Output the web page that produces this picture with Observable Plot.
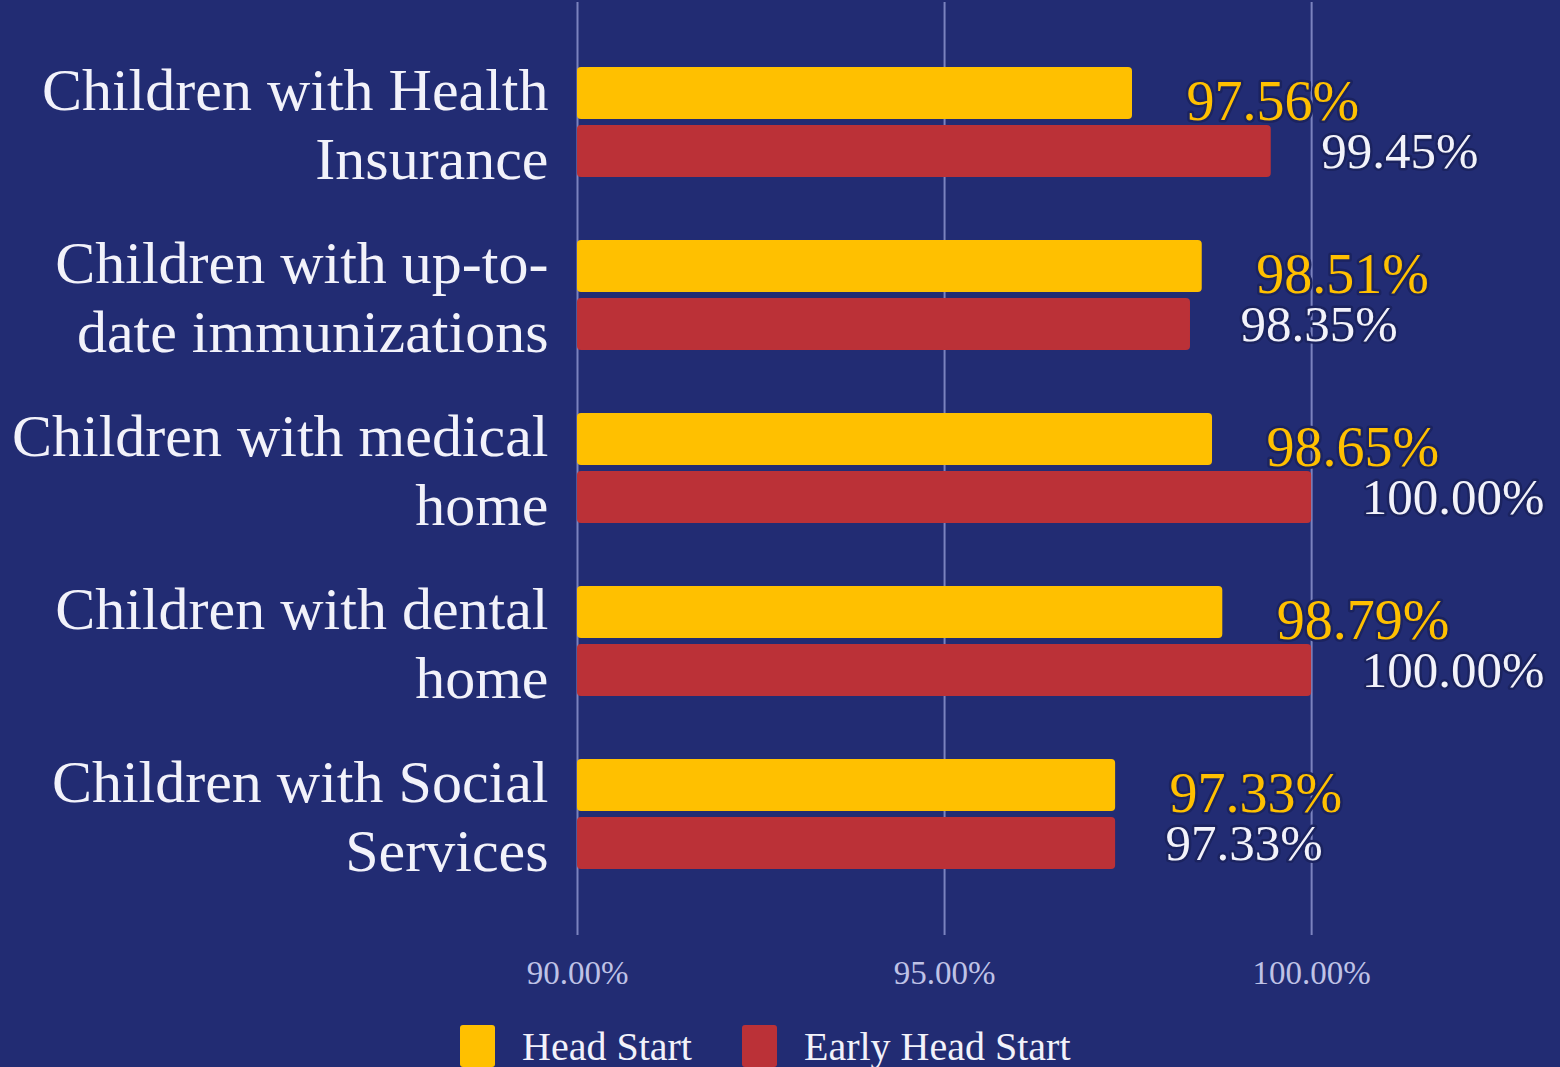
<!DOCTYPE html>
<html>
<head>
<meta charset="utf-8">
<script src="https://cdn.jsdelivr.net/npm/d3@7"></script>
<script src="https://cdn.jsdelivr.net/npm/@observablehq/plot@0.6"></script>
<style>
  html, body { margin: 0; padding: 0; background: #222c73; overflow: hidden; }
  body { width: 1560px; height: 1067px; font-family: "Liberation Serif", serif; }
  #chart svg { display: block; }
  .legend { display: flex; align-items: flex-start; margin-left: 460px; margin-top: 15px; }
  .legend .item { display: flex; align-items: flex-start; margin-right: 50px; }
  .legend .sw { width: 35px; height: 42px; border-radius: 3px; margin-right: 27px; }
  .legend .lbl { font-size: 40px; color: #f2f2fa; line-height: 42px; margin-top: 1px; }
</style>
</head>
<body>
<div id="chart"></div>
<div class="legend" id="legend"></div>
<script>
const categories = [
  "Children with Health\nInsurance",
  "Children with up-to-\ndate immunizations",
  "Children with medical\nhome",
  "Children with dental\nhome",
  "Children with Social\nServices"
];
const seriesNames = ["Head Start", "Early Head Start"];
const headStart = [97.56, 98.51, 98.65, 98.79, 97.33];
const earlyHeadStart = [99.45, 98.35, 100.00, 100.00, 97.33];
const xTicks = [90, 95, 100];
const colors = ["#ffc000", "#bb3137"];

const hsData = categories.map((c, i) => ({category: c, series: seriesNames[0], value: headStart[i]}));
const ehsData = categories.map((c, i) => ({category: c, series: seriesNames[1], value: earlyHeadStart[i]}));
const pct = d => d.toFixed(2) + "%";

const chart = Plot.plot({
  width: 1560,
  height: 1010,
  marginLeft: 577,
  marginRight: 0,
  marginTop: 2,
  marginBottom: 75,
  style: {background: "transparent", fontFamily: "Liberation Serif, serif", overflow: "visible"},
  x: {domain: [90, 103.39], axis: null},
  y: {domain: categories, padding: 0.363, axis: null},
  marks: [
    Plot.ruleX(xTicks, {x: d => d, stroke: "#9aa0d8", strokeOpacity: 0.75, strokeWidth: 2}),
    Plot.barX(hsData, {x1: 90, x2: "value", y: "category", fill: colors[0], insetBottom: 58, rx: 4}),
    Plot.barX(ehsData, {x1: 90, x2: "value", y: "category", fill: colors[1], insetTop: 58, rx: 4}),
    Plot.text(ehsData, {x: "value", y: "category", text: d => pct(d.value), textAnchor: "start", dx: 50, dy: 29, fontSize: 51, fill: "#f2f2fa", stroke: "#1b235f", strokeWidth: 5, paintOrder: "stroke"}),
    Plot.text(hsData, {x: "value", y: "category", text: d => pct(d.value), textAnchor: "start", dx: 54, dy: -20, fontSize: 56, fill: colors[0], stroke: "#1b235f", strokeWidth: 5, paintOrder: "stroke"}),
    Plot.text(categories, {y: d => d, text: d => d, frameAnchor: "left", textAnchor: "end", dx: -29, fontSize: 60, lineHeight: 1.15, fill: "#f2f2fa"}),
    Plot.text(xTicks, {x: d => d, text: d => pct(d), frameAnchor: "bottom", dy: 48, fontSize: 33, fill: "#bfc2e6"})
  ]
});
document.getElementById("chart").appendChild(chart);

const legend = document.getElementById("legend");
seriesNames.forEach((name, i) => {
  const item = document.createElement("div");
  item.className = "item";
  const sw = document.createElement("div");
  sw.className = "sw";
  sw.style.background = colors[i];
  const lbl = document.createElement("div");
  lbl.className = "lbl";
  lbl.textContent = name;
  item.appendChild(sw);
  item.appendChild(lbl);
  legend.appendChild(item);
});
</script>
</body>
</html>
